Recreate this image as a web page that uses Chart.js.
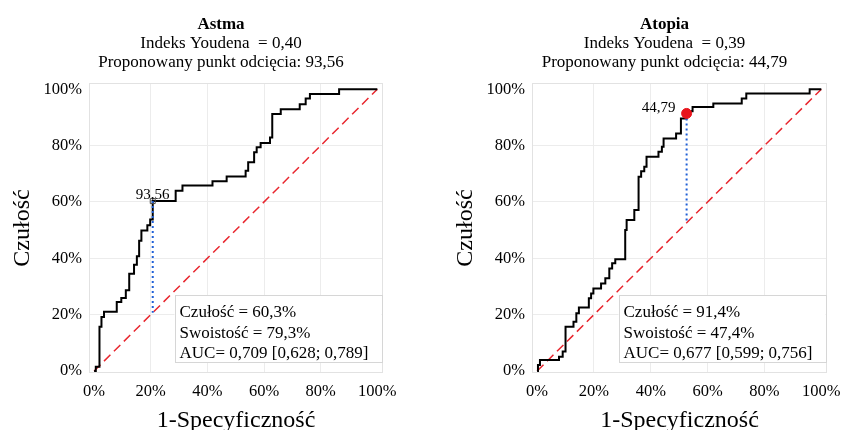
<!DOCTYPE html>
<html lang="pl">
<head>
<meta charset="utf-8">
<script src="https://cdn.jsdelivr.net/npm/chart.js@4.4.1/dist/chart.umd.min.js"></script>
<style>
  body { margin: 0; background: #fff; overflow: hidden; }
  .wykres { position: absolute; top: 0; }
</style>
</head>
<body>
<canvas id="astma" class="wykres" width="421" height="430" style="left:0"></canvas>
<canvas id="atopia" class="wykres" width="421" height="430" style="left:421px"></canvas>
<script>
// podziałka obu osi (%)
const osTicks = [0, 20, 40, 60, 80, 100];

// Astma - krzywa ROC: 1-specyficzność (%) i czułość (%) po każdym skoku
const astmaFpr  = [0.6, 1.9, 2.6, 3.5, 8.0, 9.6, 11.2, 12.4, 14.1, 15.1, 15.9, 16.7, 18.8, 19.8, 20.7,
                   28.8, 31.2, 41.8, 46.8, 53.5, 54.4, 56.5, 57.4, 58.8, 62.1, 62.9, 65.9, 72.6, 74.7, 76.2, 86.5];
const astmaSens = [1.5, 15.7, 19.2, 21.0, 24.5, 25.9, 28.7, 34.5, 37.7, 40.7, 46.2, 49.9, 51.7, 53.8, 60.3,
                   64.0, 65.8, 67.3, 69.0, 71.1, 74.1, 77.6, 79.4, 80.9, 82.9, 91.2, 92.9, 94.7, 96.7, 98.3, 100];
const astmaCut = [20.7, 60.3];
const astmaCutLabel = '93,56';
const astmaTitle = ['Astma', 'Indeks Youdena  = 0,40', 'Proponowany punkt odcięcia: 93,56'];
const astmaStats = ['Czułość = 60,3%', 'Swoistość = 79,3%', 'AUC= 0,709 [0,628; 0,789]'];

// Atopia - krzywa ROC
const atopiaFpr  = [0.3, 1.0, 7.7, 9.0, 10.0, 12.8, 13.8, 14.7, 18.2, 19.0, 19.8, 22.5, 24.0, 25.4, 26.4, 27.5,
                    31.0, 31.5, 34.2, 35.7, 36.6, 37.7, 38.5, 42.7, 43.9, 44.5, 48.9, 50.6, 52.6, 53.0, 54.7,
                    62.0, 72.0, 73.6, 95.9];
const atopiaSens = [2.1, 3.9, 5.1, 6.9, 15.7, 17.5, 20.5, 22.5, 25.8, 27.5, 29.3, 31.1, 32.9, 36.4, 38.2, 39.7,
                    50.0, 53.6, 57.1, 68.9, 70.9, 72.5, 76.0, 77.8, 79.6, 82.5, 84.3, 89.6, 91.4, 92.2, 93.7,
                    94.9, 96.7, 98.5, 100];
const atopiaCut = [52.6, 91.4];
const atopiaCutLabel = '44,79';
const atopiaTitle = ['Atopia', 'Indeks Youdena  = 0,39', 'Proponowany punkt odcięcia: 44,79'];
const atopiaStats = ['Czułość = 91,4%', 'Swoistość = 47,4%', 'AUC= 0,677 [0,599; 0,756]'];

Chart.defaults.font.family = '"Liberation Serif", "Times New Roman", serif';
Chart.defaults.color = '#000';

// zamiana punktów skoku na schodki krzywej ROC
function schodki(fpr, sens) {
  const pts = [{ x: 0, y: 0 }];
  let prev = 0;
  fpr.forEach((x, i) => {
    pts.push({ x: x, y: prev });
    pts.push({ x: x, y: sens[i] });
    prev = sens[i];
  });
  pts.push({ x: 100, y: prev });
  return pts;
}

// tytuł, ramka obszaru, tabelka z wynikami i etykieta punktu odcięcia
const opisy = {
  id: 'opisy',
  beforeDatasetsDraw(chart) {
    const a = chart.chartArea, ctx = chart.ctx;
    ctx.save();
    ctx.strokeStyle = '#e2e2e2';
    ctx.lineWidth = 1;
    ctx.strokeRect(a.left + 0.5, a.top + 0.5, a.right - a.left - 1, a.bottom - a.top - 1);
    ctx.restore();
  },
  afterDatasetsDraw(chart, args, o) {
    const a = chart.chartArea, ctx = chart.ctx;
    const px = chart.scales.x.getPixelForValue(o.cut[0]);
    const py = chart.scales.y.getPixelForValue(o.cut[1]);
    ctx.save();
    ctx.fillStyle = '#000';
    ctx.font = '15px "Liberation Serif"';
    ctx.textBaseline = 'alphabetic';
    if (o.labelSide === 'left') {
      ctx.textAlign = 'right';
      ctx.fillText(o.cutLabel, px - 11, py - 1.5);
    } else {
      ctx.textAlign = 'center';
      ctx.fillText(o.cutLabel, px, py - 2);
    }
    // ramka z wynikami
    const bw = 207, bh = 67;
    const bx = a.right - bw - 1.5, by = a.bottom - bh - 11;
    ctx.fillStyle = '#fff';
    ctx.fillRect(bx, by, bw, bh);
    ctx.strokeStyle = '#d6d6d6';
    ctx.strokeRect(Math.round(bx) + 0.5, Math.round(by) + 0.5, bw, bh);
    ctx.fillStyle = '#000';
    ctx.font = '17px "Liberation Serif"';
    ctx.textAlign = 'left';
    o.stats.forEach((t, i) => ctx.fillText(t, bx + 5, by + 22 + i * 20.5));
    ctx.restore();
  },
  afterDraw(chart, args, o) {
    const a = chart.chartArea, ctx = chart.ctx;
    const cx = (a.left + a.right) / 2 - 15;
    ctx.save();
    ctx.fillStyle = '#000';
    ctx.textAlign = 'center';
    ctx.textBaseline = 'alphabetic';
    o.title.forEach((t, i) => {
      ctx.font = (i === 0 ? 'bold ' : '') + '17px "Liberation Serif"';
      ctx.fillText(t, cx, 28.5 + i * 19);
    });
    ctx.restore();
  }
};

function siatka(c) {
  const v = c.tick ? c.tick.value : null;
  return (v === 0 || v === 100) ? 'rgba(0,0,0,0)' : '#ececec';
}

function rysuj(id, fpr, sens, cut, cutLabel, title, stats, marker, pad) {
  new Chart(document.getElementById(id), {
    type: 'line',
    data: {
      datasets: [
        { // punkt odcięcia
          data: [{ x: cut[0], y: cut[1] }],
          showLine: false,
          pointStyle: marker.style,
          pointRadius: marker.radius,
          pointBackgroundColor: marker.fill,
          pointBorderColor: marker.border,
          pointBorderWidth: marker.width
        },
        { // odcinek do przekątnej
          data: [{ x: cut[0], y: cut[1] }, { x: cut[0], y: cut[0] }],
          borderColor: '#1f5fd6',
          borderWidth: 2,
          borderDash: [2, 3],
          pointRadius: 0
        },
        { // krzywa ROC
          data: schodki(fpr, sens),
          borderColor: '#000',
          borderWidth: 2,
          pointRadius: 0,
          tension: 0
        },
        { // linia odniesienia
          data: [{ x: 0, y: 0 }, { x: 100, y: 100 }],
          borderColor: '#e8262e',
          borderWidth: 1.5,
          borderDash: [9, 5],
          pointRadius: 0
        }
      ]
    },
    options: {
      responsive: false,
      animation: false,
      devicePixelRatio: 1,
      layout: { padding: pad },
      plugins: {
        legend: { display: false },
        tooltip: { enabled: false },
        opisy: { cut: cut, cutLabel: cutLabel, title: title, stats: stats, labelSide: marker.labelSide }
      },
      scales: {
        x: {
          type: 'linear', min: -1.8, max: 102,
          afterBuildTicks: s => { s.ticks = osTicks.map(v => ({ value: v })); },
          // stała wysokość osi, etykiety mogą wychodzić poza obszar wykresu
          afterFit: s => { s.height = 57; s.paddingLeft = 0; s.paddingRight = 0; },
          grid: { color: siatka, drawTicks: false },
          border: { display: false },
          ticks: { padding: 9, font: { size: 16.5 }, color: '#000', callback: v => v + '%' },
          title: { display: true, text: '1-Specyficzność', font: { size: 24 }, color: '#000', padding: { top: 0, bottom: -5 } }
        },
        y: {
          type: 'linear', min: -0.7, max: 102.2,
          afterBuildTicks: s => { s.ticks = osTicks.map(v => ({ value: v })); },
          afterFit: s => { s.width = 89; s.paddingTop = 0; s.paddingBottom = 0; },
          grid: { color: siatka, drawTicks: false },
          border: { display: false },
          ticks: { padding: 7, font: { size: 16.5 }, color: '#000', callback: v => v + '%' },
          title: { display: true, text: 'Czułość', font: { size: 24 }, color: '#000', padding: { top: 8, bottom: 0 } }
        }
      }
    },
    plugins: [opisy]
  });
}

rysuj('astma', astmaFpr, astmaSens, astmaCut, astmaCutLabel, astmaTitle, astmaStats,
  { style: 'rect', radius: 3.5, fill: 'rgba(0,0,0,0)', border: '#4a4a4a', width: 1, labelSide: 'top' },
  { left: 0, right: 38, top: 83, bottom: 0 });

rysuj('atopia', atopiaFpr, atopiaSens, atopiaCut, atopiaCutLabel, atopiaTitle, atopiaStats,
  { style: 'circle', radius: 5, fill: '#e8141c', border: '#e8141c', width: 1, labelSide: 'left' },
  { left: 22, right: 15, top: 83, bottom: 0 });
</script>
</body>
</html>
